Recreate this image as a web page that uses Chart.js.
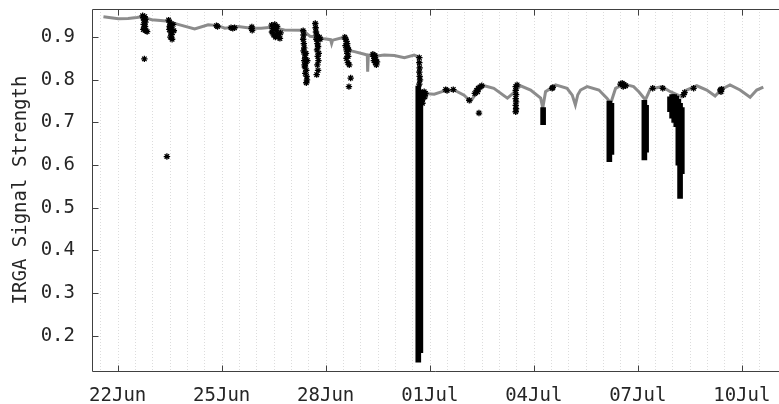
<!DOCTYPE html>
<html>
<head>
<meta charset="utf-8">
<script src="https://cdn.jsdelivr.net/npm/chart.js@4.4.0/dist/chart.umd.min.js"></script>
<style>
  html, body { margin: 0; padding: 0; background: #fff; }
  #wrap { width: 779px; height: 404px; }
</style>
</head>
<body>
<div id="wrap"><canvas id="irga" width="779" height="404"></canvas></div>
<script>
// x values are days counted from 22 Jun 00:00
const tickDays = [0, 3, 6, 9, 12, 15, 18];
const tickLabels = ['22Jun', '25Jun', '28Jun', '01Jul', '04Jul', '07Jul', '10Jul'];
const yTicks = [0.2, 0.3, 0.4, 0.5, 0.6, 0.7, 0.8, 0.9];

// signal strength (grey trace)
const lineDays = [
  -0.41, 0.02, 0.30, 0.55, 0.69, 0.98, 1.41, 1.74, 2.22, 2.61, 2.89, 3.09, 3.47, 3.86,
  4.14, 4.43, 4.81, 5.34, 5.55, 5.68, 5.96, 6.14, 6.17, 6.20, 6.44, 6.52, 6.70, 6.83,
  7.12, 7.20, 7.21, 7.23, 7.40, 7.69, 7.98, 8.27, 8.55, 8.67, 8.70, 8.84, 9.13, 9.42,
  9.70, 9.99, 10.18, 10.37, 10.57, 10.85, 11.24, 11.40, 11.48, 11.62, 11.91, 12.20, 12.26,
  12.34, 12.63, 12.96, 13.11, 13.20, 13.27, 13.35, 13.54, 13.88, 14.11, 14.22, 14.36,
  14.59, 14.88, 15.03, 15.22, 15.36, 15.70, 15.94, 16.27, 16.41, 16.70, 16.99, 17.23,
  17.42, 17.66, 17.95, 18.24, 18.43, 18.62
];
const lineValues = [
  0.948, 0.943, 0.944, 0.946, 0.948, 0.941, 0.938, 0.930, 0.919, 0.929, 0.927, 0.921, 0.925, 0.921,
  0.921, 0.923, 0.917, 0.916, 0.902, 0.901, 0.896, 0.894, 0.885, 0.893, 0.898, 0.897, 0.868, 0.866,
  0.860, 0.858, 0.819, 0.858, 0.855, 0.858, 0.857, 0.852, 0.858, 0.854, 0.770, 0.768, 0.766, 0.774,
  0.776, 0.764, 0.749, 0.772, 0.786, 0.780, 0.757, 0.768, 0.776, 0.786, 0.776, 0.757, 0.734,
  0.772, 0.788, 0.780, 0.764, 0.741, 0.765, 0.776, 0.784, 0.776, 0.757, 0.745, 0.780,
  0.790, 0.784, 0.772, 0.753, 0.778, 0.784, 0.772, 0.760, 0.776, 0.786, 0.776, 0.762,
  0.778, 0.788, 0.776, 0.759, 0.776, 0.783
];

// flagged single samples (asterisks)
const flagDays = [
  0.72, 0.74, 0.76, 0.78, 0.80, 0.75, 0.79, 0.77, 0.82, 0.74, 0.85, 0.80, 0.77, 1.42,
  1.47, 1.50, 1.52, 1.55, 1.49, 1.53, 1.56, 1.52, 1.57, 1.60, 1.62, 1.50,
  2.85, 2.88, 3.27, 3.32, 3.37, 3.86, 3.88, 3.87,
  4.44, 4.47, 4.45, 4.50, 4.53, 4.56, 4.58, 4.62, 4.65, 4.68, 4.55, 4.70, 4.60,
  5.35, 5.36, 5.35, 5.37, 5.38, 5.36, 5.39, 5.41, 5.38, 5.42, 5.40, 5.44, 5.41, 5.45, 5.46, 5.44, 5.43, 5.47, 5.39,
  5.70, 5.71, 5.72, 5.74, 5.73, 5.76, 5.78, 5.75, 5.80, 5.77, 5.79, 5.76, 5.78, 5.74, 5.82, 5.84,
  6.55, 6.58, 6.60, 6.62, 6.57, 6.64, 6.60, 6.66, 6.62, 6.65, 6.60, 6.64, 6.68, 6.72, 6.67,
  7.36, 7.38, 7.40, 7.42, 7.39, 7.44, 7.43, 7.46, 7.48,
  8.70, 8.70, 8.71, 8.70, 8.71, 8.72, 8.70,
  8.78, 8.82, 8.86, 8.80, 8.76, 8.84, 8.88, 8.79,
  9.46, 9.68, 9.50, 10.14, 10.42, 10.30, 10.35, 10.40, 10.45, 10.50, 10.38,
  11.48, 11.48, 11.49, 11.48, 11.49, 11.48, 11.49, 11.48, 11.52,
  12.53, 12.55, 14.50, 14.55, 14.60, 14.65, 14.58,
  15.43, 15.72, 16.32, 16.35, 16.61, 17.38, 17.40, 17.42
];
const flagValues = [
  0.950, 0.945, 0.940, 0.948, 0.935, 0.930, 0.925, 0.920, 0.915, 0.918, 0.913, 0.942, 0.849, 0.620,
  0.940, 0.935, 0.928, 0.922, 0.918, 0.912, 0.906, 0.900, 0.895, 0.930, 0.915, 0.925,
  0.927, 0.925, 0.922, 0.921, 0.922, 0.920, 0.916, 0.924,
  0.928, 0.920, 0.912, 0.905, 0.930, 0.922, 0.915, 0.908, 0.900, 0.897, 0.900, 0.910, 0.925,
  0.915, 0.905, 0.895, 0.885, 0.875, 0.868, 0.860, 0.852, 0.845, 0.838, 0.830, 0.822, 0.815, 0.808, 0.800, 0.793, 0.862, 0.845, 0.835,
  0.932, 0.922, 0.912, 0.905, 0.895, 0.885, 0.878, 0.870, 0.862, 0.855, 0.845, 0.835, 0.822, 0.812, 0.900, 0.895,
  0.900, 0.895, 0.890, 0.885, 0.880, 0.875, 0.870, 0.870, 0.862, 0.855, 0.850, 0.840, 0.835, 0.804, 0.784,
  0.860, 0.855, 0.850, 0.857, 0.845, 0.848, 0.840, 0.835, 0.842,
  0.852, 0.840, 0.828, 0.818, 0.808, 0.800, 0.790,
  0.770, 0.765, 0.760, 0.755, 0.750, 0.772, 0.768, 0.745,
  0.777, 0.777, 0.775, 0.752, 0.722, 0.768, 0.775, 0.780, 0.783, 0.786, 0.772,
  0.784, 0.775, 0.765, 0.756, 0.748, 0.740, 0.732, 0.725, 0.788,
  0.780, 0.782, 0.790, 0.792, 0.789, 0.786, 0.784,
  0.780, 0.780, 0.765, 0.770, 0.780, 0.776, 0.772, 0.778
];

// dense runs of flagged samples, drawn as solid columns
const spikeDays = [8.67, 8.73, 12.27, 14.18, 14.24, 15.19, 15.24, 15.93, 15.99, 16.05, 16.11, 16.17, 16.22, 16.27];
const spikeLow  = [0.138, 0.160, 0.695, 0.608, 0.625, 0.612, 0.630, 0.725, 0.710, 0.700, 0.690, 0.600, 0.522, 0.580];
const spikeHigh = [0.785, 0.775, 0.735, 0.750, 0.745, 0.752, 0.740, 0.760, 0.765, 0.765, 0.762, 0.755, 0.745, 0.735];

const FONT = "'DejaVu Sans Mono', monospace";
const AXIS = '#404040';

// dotted half-day grid, axis box and inward tick marks
const frame = {
  id: 'frame',
  beforeDatasetsDraw(chart) {
    const { ctx, chartArea: a, scales: { x } } = chart;
    ctx.save();
    ctx.strokeStyle = '#dcdcdc';
    ctx.lineWidth = 1;
    ctx.setLineDash([1, 2]);
    for (let d = Math.ceil(x.min * 2) / 2; d <= x.max; d += 0.5) {
      const px = Math.round(x.getPixelForValue(d)) + 0.5;
      ctx.beginPath();
      ctx.moveTo(px, a.top);
      ctx.lineTo(px, a.bottom);
      ctx.stroke();
    }
    ctx.restore();
  },
  afterDatasetsDraw(chart) {
    const { ctx, chartArea: a, scales: { x, y } } = chart;
    ctx.save();
    ctx.strokeStyle = AXIS;
    ctx.lineWidth = 1;
    const L = Math.round(a.left) + 0.5, T = Math.round(a.top) + 0.5, B = Math.round(a.bottom) + 0.5;
    ctx.beginPath();
    ctx.moveTo(chart.width, T); ctx.lineTo(L, T); ctx.lineTo(L, B); ctx.lineTo(chart.width, B);
    ctx.stroke();
    ctx.beginPath();
    tickDays.forEach(d => {
      const px = Math.round(x.getPixelForValue(d)) + 0.5;
      ctx.moveTo(px, B); ctx.lineTo(px, B - 6);
      ctx.moveTo(px, T); ctx.lineTo(px, T + 6);
    });
    yTicks.forEach(v => {
      const py = Math.round(y.getPixelForValue(v)) + 0.5;
      ctx.moveTo(L, py); ctx.lineTo(L + 6, py);
    });
    ctx.stroke();
    ctx.restore();
  }
};

new Chart(document.getElementById('irga'), {
  type: 'scatter',
  data: {
    datasets: [
      {
        type: 'scatter',
        label: 'flagged',
        data: flagDays.map((d, i) => ({ x: d, y: flagValues[i] })),
        pointStyle: 'star',
        pointRadius: 3.2,
        borderColor: '#000',
        backgroundColor: '#000',
        borderWidth: 1.3,
        order: 0
      },
      {
        type: 'bar',
        label: 'flagged runs',
        data: spikeDays.map((d, i) => ({ x: d, y: [spikeLow[i], spikeHigh[i]] })),
        backgroundColor: '#000',
        borderWidth: 0,
        barThickness: 5,
        grouped: false,
        order: 1
      },
      {
        type: 'line',
        label: 'signal',
        data: lineDays.map((d, i) => ({ x: d, y: lineValues[i] })),
        borderColor: '#8c8c8c',
        borderWidth: 3,
        pointRadius: 0,
        tension: 0,
        fill: false,
        order: 2
      }
    ]
  },
  plugins: [frame],
  options: {
    responsive: false,
    animation: false,
    devicePixelRatio: 1,
    layout: { padding: { top: 9, right: 0, bottom: 0, left: 0 } },
    plugins: {
      legend: { display: false },
      tooltip: { enabled: false }
    },
    scales: {
      x: {
        type: 'linear',
        min: -0.74,
        max: 18.92,
        offset: false,
        grid: { display: false },
        border: { display: false },
        afterBuildTicks: s => { s.ticks = tickDays.map(v => ({ value: v })); },
        afterFit: s => { s.height = 33; s.paddingLeft = 0; s.paddingRight = 0; },
        ticks: {
          autoSkip: false,
          maxRotation: 0,
          padding: 6,
          color: '#262626',
          font: { family: FONT, size: 19 },
          callback: v => tickLabels[tickDays.indexOf(v)]
        }
      },
      y: {
        type: 'linear',
        min: 0.117,
        max: 0.966,
        grid: { display: false },
        border: { display: false },
        afterBuildTicks: s => { s.ticks = yTicks.map(v => ({ value: v })); },
        afterFit: s => { s.width = 92; s.paddingTop = 0; s.paddingBottom = 0; },
        title: {
          display: true,
          text: 'IRGA Signal Strength',
          color: '#262626',
          font: { family: FONT, size: 19 },
          padding: { top: 10, bottom: 0 }
        },
        ticks: {
          padding: 9,
          color: '#262626',
          font: { family: FONT, size: 19 },
          callback: v => v.toFixed(1)
        }
      }
    }
  }
});
</script>
</body>
</html>
